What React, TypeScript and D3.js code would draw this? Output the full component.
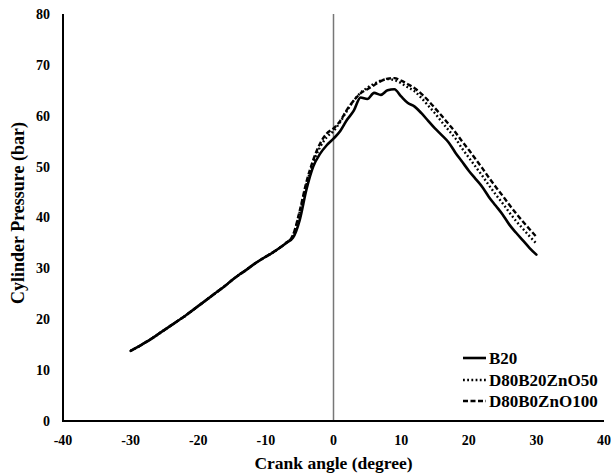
import React from "react";
import * as d3 from "d3";

const angles = d3.range(-30, 31, 1);
const b20 = [13.8, 14.5, 15.3, 16.1, 17.0, 17.9, 18.8, 19.7, 20.6, 21.6, 22.6, 23.6, 24.6, 25.6, 26.6, 27.7, 28.7, 29.6, 30.6, 31.5, 32.3, 33.1, 34.0, 35.0, 36.0, 39.5, 45.5, 50.0, 52.5, 54.2, 55.5, 57.0, 59.2, 61.0, 63.6, 63.3, 64.5, 64.1, 65.0, 65.2, 63.8, 62.5, 61.8, 60.5, 59.0, 57.5, 56.2, 54.8, 52.8, 51.0, 49.2, 47.6, 46.0, 44.0, 42.3, 40.6, 38.6, 37.0, 35.5, 34.0, 32.7];
const d80b20 = [13.8, 14.5, 15.3, 16.1, 17.0, 17.9, 18.8, 19.7, 20.6, 21.6, 22.6, 23.6, 24.6, 25.6, 26.6, 27.7, 28.7, 29.6, 30.6, 31.5, 32.3, 33.1, 34.0, 35.0, 36.5, 41.0, 46.5, 50.8, 53.8, 55.8, 57.0, 58.8, 61.0, 63.0, 64.5, 65.5, 66.3, 66.9, 67.2, 67.0, 66.4, 65.6, 64.8, 63.5, 62.0, 60.5, 58.8, 57.2, 55.6, 53.6, 51.8, 50.0, 48.2, 46.3, 44.5, 42.8, 41.0, 39.3, 37.8, 36.3, 34.9];
const d80b0 = [13.8, 14.5, 15.3, 16.1, 17.0, 17.9, 18.8, 19.7, 20.6, 21.6, 22.6, 23.6, 24.6, 25.6, 26.6, 27.7, 28.7, 29.6, 30.6, 31.5, 32.3, 33.1, 34.0, 35.0, 36.5, 41.3, 47.0, 51.3, 54.5, 56.5, 57.5, 59.0, 61.2, 63.0, 64.4, 65.2, 66.0, 66.8, 67.3, 67.4, 66.9, 66.2, 65.4, 64.3, 63.0, 61.5, 60.0, 58.4, 56.8, 55.0, 53.3, 51.5, 49.7, 47.8, 46.0, 44.3, 42.5, 40.8, 39.2, 37.7, 36.2];
const seriesNames = ["B20", "D80B20ZnO50", "D80B0ZnO100"];
const xTicks = [-40, -30, -20, -10, 0, 10, 20, 30, 40];
const yTicks = [0, 10, 20, 30, 40, 50, 60, 70, 80];

const FONT = "'Liberation Serif', 'Times New Roman', serif";

export default function App() {
  const x = d3.scaleLinear().domain([-40, 40]).range([63, 604]);
  const y = d3.scaleLinear().domain([0, 80]).range([421, 14]);
  const line = d3
    .line<number>()
    .x((_, i) => x(angles[i]))
    .y((v) => y(v))
    .curve(d3.curveMonotoneX);
  const series = [
    { name: seriesNames[0], data: b20, dash: undefined, width: 2.6, cap: "round" },
    { name: seriesNames[1], data: d80b20, dash: "1.8 2.4", width: 2.4, cap: "butt" },
    { name: seriesNames[2], data: d80b0, dash: "5 2.5", width: 2.4, cap: "butt" },
  ];
  const legendY = [358, 380, 401];
  return (
    <svg width={611} height={474} style={{ position: "absolute", left: 0, top: 0, background: "#fff" }}>
      <line x1={x(0)} x2={x(0)} y1={y(80)} y2={y(0)} stroke="#777" strokeWidth={1.5} />
      {series
        .slice()
        .reverse()
        .map((s) => (
          <path
            key={s.name}
            d={line(s.data) || ""}
            fill="none"
            stroke="#000"
            strokeWidth={s.width}
            strokeDasharray={s.dash}
            strokeLinecap={s.cap as any}
            strokeLinejoin="round"
          />
        ))}
      <line x1={x(-40)} x2={x(-40)} y1={y(80)} y2={y(0)} stroke="#000" strokeWidth={2} />
      <line x1={x(-40) - 1} x2={x(40)} y1={y(0)} y2={y(0)} stroke="#000" strokeWidth={2} />
      {yTicks.map((t) => (
        <text key={"y" + t} x={50} y={y(t)} dy="0.35em" textAnchor="end" fontFamily={FONT} fontWeight="bold" fontSize={14}>
          {t}
        </text>
      ))}
      {xTicks.map((t) => (
        <text key={"x" + t} x={x(t)} y={445} textAnchor="middle" fontFamily={FONT} fontWeight="bold" fontSize={14}>
          {t}
        </text>
      ))}
      <text x={x(0)} y={469} textAnchor="middle" fontFamily={FONT} fontWeight="bold" fontSize={17.5}>
        Crank angle (degree)
      </text>
      <text
        transform={`translate(24,213) rotate(-90)`}
        textAnchor="middle"
        fontFamily={FONT}
        fontWeight="bold"
        fontSize={18}
      >
        Cylinder Pressure (bar)
      </text>
      {series.map((s, i) => (
        <g key={"lg" + s.name}>
          <line
            x1={463}
            x2={486}
            y1={legendY[i]}
            y2={legendY[i]}
            stroke="#000"
            strokeWidth={s.width}
            strokeDasharray={s.dash}
          />
          <text x={489} y={legendY[i]} dy="0.35em" fontFamily={FONT} fontWeight="bold" fontSize={17}>
            {s.name}
          </text>
        </g>
      ))}
    </svg>
  );
}
